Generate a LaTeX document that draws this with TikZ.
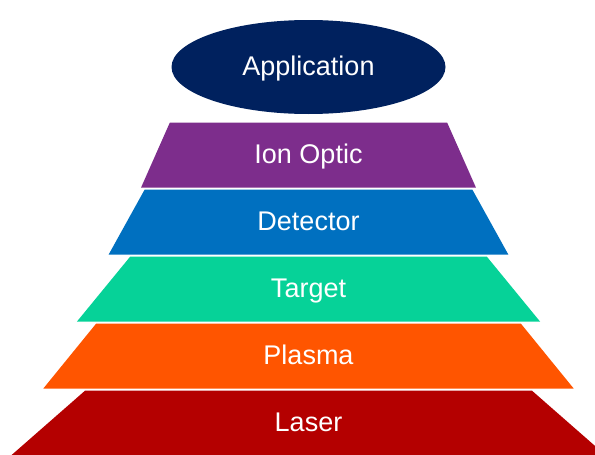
\documentclass[tikz,border=0pt]{standalone}
\usepackage{fontspec}
\setmainfont{Liberation Sans}
\usetikzlibrary{shapes.geometric}
\definecolor{appblue}{RGB}{0,33,94}
\definecolor{ionpurple}{RGB}{125,45,140}
\definecolor{detblue}{RGB}{0,112,192}
\definecolor{targetgreen}{RGB}{6,210,152}
\definecolor{plasmaorange}{RGB}{255,85,0}
\definecolor{laserred}{RGB}{180,0,0}
\begin{document}
\begin{tikzpicture}[x=1pt,y=-1pt]
                \tikzstyle{layer} = [trapezium, trapezium angle=64, trapezium stretches=true, minimum height=65pt, inner sep=0pt, outer sep=0pt, text=white, text height=20pt, text depth=3pt, font=\fontsize{27}{32}\selectfont, node distance=67pt]
                \tikzstyle{top} = [ellipse, minimum width=274pt, minimum height=94pt, inner sep=0pt, text=white, text height=20pt, text depth=4pt, font=\fontsize{27}{32}\selectfont]

                \path[use as bounding box, clip] (0,0) rectangle (595,455);

                \node (ion) [layer, fill=ionpurple, minimum width=335pt] at (308.5,155) {Ion Optic};
                \node (det) [layer, fill=detblue, minimum width=400pt, below of=ion] {Detector};
                \node (target) [layer, fill=targetgreen, minimum width=466pt, below of=det] {Target};
                \node (plasma) [layer, fill=plasmaorange, minimum width=531pt, below of=target] {Plasma};
                \node (laser) [layer, fill=laserred, minimum width=596pt, below of=plasma] {Laser};
                \node (app) [top, fill=appblue] at (308.5,67) {Application};
            \end{tikzpicture}
\end{document}
